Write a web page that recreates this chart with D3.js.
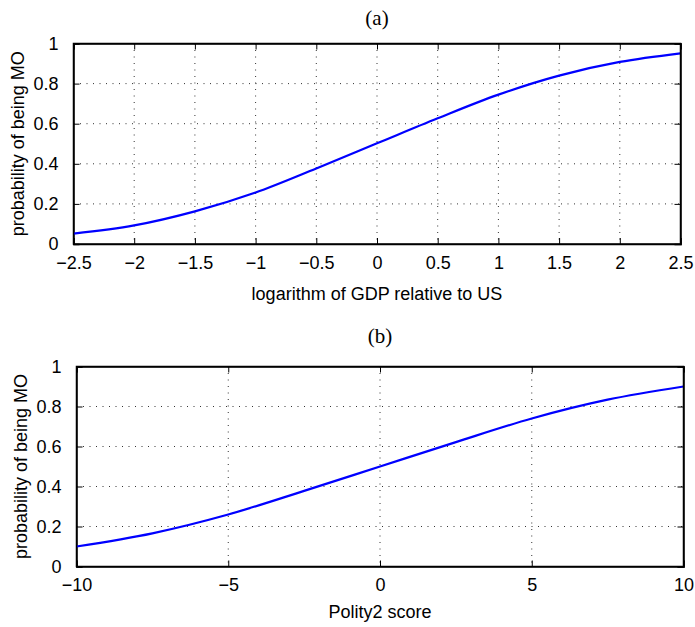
<!DOCTYPE html>
<html><head><meta charset="utf-8">
<script src="https://cdn.jsdelivr.net/npm/d3@7"></script>
<style>body{margin:0;background:#fff}svg{display:block}</style>
</head><body>
<svg id="c" width="695" height="627"></svg>
<script>
// Panel (a)
const gdpX = [-2.5, -2, -1.5, -1, -0.5, 0, 0.5, 1, 1.5, 2, 2.5];
const gdpProb = [0.052, 0.093, 0.163, 0.257, 0.377, 0.502, 0.627, 0.745, 0.840, 0.908, 0.951];
const gdpTicks = [-2.5, -2, -1.5, -1, -0.5, 0, 0.5, 1, 1.5, 2, 2.5];
// Panel (b)
const polityX = [-10, -7.5, -5, -2.5, 0, 2.5, 5, 7.5, 10];
const polityProb = [0.100, 0.166, 0.260, 0.378, 0.500, 0.622, 0.740, 0.834, 0.900];
const polityTicks = [-10, -5, 0, 5, 10];
const probTicks = [0, 0.2, 0.4, 0.6, 0.8, 1];

const panels = [
  {title: "(a)", xs: gdpX, ys: gdpProb, xTicks: gdpTicks, domain: [-2.5, 2.5],
   xlabel: "logarithm of GDP relative to US",
   box: {l: 73.5, r: 680.5, t: 43.5, b: 244}, titleY: 25, xlabY: 300, ylabX: 24},
  {title: "(b)", xs: polityX, ys: polityProb, xTicks: polityTicks, domain: [-10, 10],
   xlabel: "Polity2 score",
   box: {l: 76.5, r: 683.5, t: 366.5, b: 566.5}, titleY: 343, xlabY: 618, ylabX: 27}
];

const svg = d3.select("#c");
const fmt = d3.format("~g");
const font = "'Liberation Sans', Arial, Helvetica, sans-serif";

panels.forEach(p => {
  const B = p.box;
  const x = d3.scaleLinear().domain(p.domain).range([B.l, B.r]);
  const y = d3.scaleLinear().domain([0, 1]).range([B.b, B.t]);
  const g = svg.append("g");

  // grid
  g.append("g").selectAll("line").data(p.xTicks.slice(1, -1)).join("line")
    .attr("x1", d => x(d)).attr("x2", d => x(d)).attr("y1", B.t).attr("y2", B.b)
    .attr("stroke", "#333").attr("stroke-width", 1).attr("stroke-dasharray", "1,5.5");
  g.append("g").selectAll("line").data(probTicks.slice(1, -1)).join("line")
    .attr("y1", d => y(d)).attr("y2", d => y(d)).attr("x1", B.l).attr("x2", B.r)
    .attr("stroke", "#333").attr("stroke-width", 1).attr("stroke-dasharray", "1,5.5");

  // axes with inward ticks
  const ax = [
    g.append("g").attr("transform", `translate(0,${B.b})`).call(d3.axisBottom(x).tickValues(p.xTicks).tickSize(-6).tickFormat(fmt).tickPadding(12)),
    g.append("g").attr("transform", `translate(0,${B.t})`).call(d3.axisTop(x).tickValues(p.xTicks).tickSize(-6).tickFormat("")),
    g.append("g").attr("transform", `translate(${B.l},0)`).call(d3.axisLeft(y).tickValues(probTicks).tickSize(-6).tickFormat(fmt).tickPadding(15)),
    g.append("g").attr("transform", `translate(${B.r},0)`).call(d3.axisRight(y).tickValues(probTicks).tickSize(-6).tickFormat(""))
  ];
  ax.forEach(a => {
    a.select(".domain").attr("stroke", "#000").attr("stroke-width", 1.5);
    a.selectAll(".tick line").attr("stroke", "#000").attr("stroke-width", 1);
    a.selectAll("text").attr("font-family", font).attr("font-size", 18).attr("fill", "#000");
  });

  // curve
  const line = d3.line().x((d, i) => x(p.xs[i])).y(d => y(d)).curve(d3.curveMonotoneX);
  g.append("path").datum(p.ys).attr("d", line)
    .attr("fill", "none").attr("stroke", "#0000ff").attr("stroke-width", 2.2);

  // frame
  g.append("rect").attr("x", B.l).attr("y", B.t).attr("width", B.r - B.l).attr("height", B.b - B.t)
    .attr("fill", "none").attr("stroke", "#000").attr("stroke-width", 1.5);

  // labels
  g.append("text").attr("x", (B.l + B.r) / 2).attr("y", p.titleY).attr("text-anchor", "middle")
    .attr("font-family", "'Liberation Serif', 'Times New Roman', serif").attr("font-size", 21).text(p.title);
  g.append("text").attr("x", (B.l + B.r) / 2).attr("y", p.xlabY).attr("text-anchor", "middle")
    .attr("font-family", font).attr("font-size", 18).text(p.xlabel);
  g.append("text").attr("transform", `translate(${p.ylabX},${(B.t + B.b) / 2}) rotate(-90)`)
    .attr("text-anchor", "middle").attr("font-family", font).attr("font-size", 18).text("probability of being MO");
});
</script>
</body></html>
